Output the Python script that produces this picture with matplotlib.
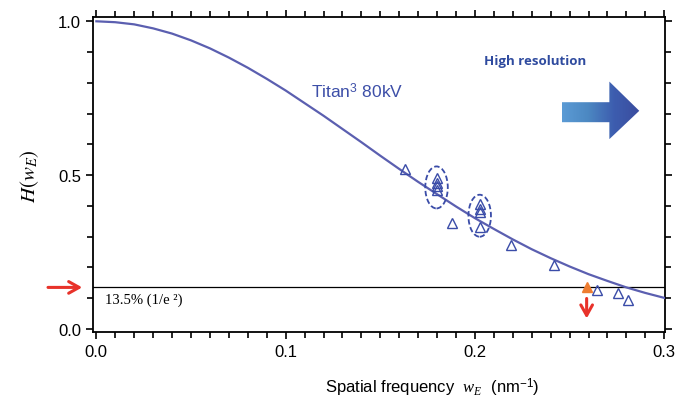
import matplotlib
matplotlib.use("Agg")
import matplotlib.pyplot as plt
import numpy as np
from matplotlib.patches import Ellipse, Polygon
from matplotlib.colors import LinearSegmentedColormap
from matplotlib.ticker import MultipleLocator

plt.rcParams["font.family"] = ["Liberation Sans", "DejaVu Sans"]
plt.rcParams["mathtext.fontset"] = "custom"
plt.rcParams["mathtext.rm"] = "Liberation Sans"
plt.rcParams["mathtext.it"] = "Liberation Serif:italic"
plt.rcParams["mathtext.bf"] = "Liberation Sans:bold"

# Envelope curve (Titan3 80kV)
curve_w = [0.00, 0.01, 0.02, 0.03, 0.04, 0.05, 0.06, 0.07, 0.08, 0.09, 0.10,
           0.11, 0.12, 0.13, 0.14, 0.15, 0.16, 0.17, 0.18, 0.19, 0.20,
           0.21, 0.22, 0.23, 0.24, 0.25, 0.26, 0.27, 0.28, 0.29, 0.30]
curve_h = [1.000, 0.997, 0.990, 0.977, 0.960, 0.938, 0.912, 0.882, 0.849, 0.813, 0.775,
           0.734, 0.693, 0.650, 0.607, 0.563, 0.520, 0.478, 0.438, 0.398, 0.360,
           0.325, 0.291, 0.259, 0.230, 0.203, 0.178, 0.156, 0.135, 0.117, 0.101]

# Measured points (open triangles)
meas_w = [0.163, 0.1797, 0.1797, 0.1797, 0.1797, 0.188, 0.2025, 0.2025, 0.2025, 0.2025,
          0.219, 0.242, 0.2644, 0.2754, 0.281]
meas_h = [0.519, 0.490, 0.475, 0.465, 0.450, 0.344, 0.406, 0.390, 0.379, 0.330,
          0.274, 0.208, 0.127, 0.116, 0.095]

# Information limit point (filled)
limit_w = [0.259]
limit_h = [0.135]

# Dashed groups: centre w, centre H
group_w = [0.1797, 0.2025]
group_h = [0.460, 0.368]

threshold = 0.135

line_blue = "#5B5FB0"
mark_blue = "#3A4CA8"
red = "#E8322A"

fig = plt.figure(figsize=(6.77, 4.02), dpi=100)
ax = fig.add_axes([0.137, 0.1716, 0.8453, 0.7829])

ax.plot(curve_w, curve_h, color=line_blue, lw=1.6, zorder=3)
ax.axhline(threshold, color="black", lw=0.9, zorder=2)

ax.plot(meas_w, meas_h, linestyle="none", marker="^", markersize=7.5,
        markerfacecolor="none", markeredgecolor=mark_blue, markeredgewidth=1.0, zorder=4)
ax.plot(limit_w, limit_h, linestyle="none", marker="^", markersize=7.5,
        markerfacecolor="#EE7D31", markeredgecolor="#EE7D31", zorder=5)

for gw, gh in zip(group_w, group_h):
    ax.add_patch(Ellipse((gw, gh), 0.0119, 0.1365, fill=False, edgecolor=mark_blue,
                         lw=1.3, linestyle=(0, (3, 1.5)), zorder=4))

# Red arrows
arrow_style = "->,head_length=0.75,head_width=0.42"
ax.annotate("", xy=(limit_w[0], 0.025), xytext=(limit_w[0], 0.108),
            arrowprops=dict(arrowstyle=arrow_style, color=red, lw=2.2), zorder=5)
ax.annotate("", xy=(-0.006, threshold), xytext=(-0.027, threshold),
            arrowprops=dict(arrowstyle=arrow_style, color=red, lw=2.2),
            annotation_clip=False)

# Gradient arrow toward high resolution
verts = [(0.2459, 0.672), (0.2710, 0.672), (0.2710, 0.617), (0.2868, 0.709),
         (0.2710, 0.804), (0.2710, 0.737), (0.2459, 0.737)]
poly = Polygon(verts, closed=True, facecolor="none", edgecolor="none")
ax.add_patch(poly)
grad = np.linspace(0, 1, 256).reshape(1, -1)
cmap = LinearSegmentedColormap.from_list(
    "hires", ["#5B9BD5", "#4C88C2", "#3D5DAF", "#3A4C9E"])
im = ax.imshow(grad, extent=[0.2459, 0.2868, 0.617, 0.804], aspect="auto",
               cmap=cmap, zorder=3, interpolation="bilinear")
im.set_clip_path(poly)

ax.text(0.232, 0.871, "High resolution", color="#2F4B9F", fontsize=9.5,
        fontweight="bold", family=["Open Sans", "DejaVu Sans"], ha="center", va="center")
ax.text(0.1135, 0.775, r"Titan$^{3}$ 80kV", color="#3D4FA8", fontsize=12.5,
        ha="left", va="center")
ax.text(0.0046, 0.095, "13.5% (1/e ²)", fontsize=10.5,
        family=["Liberation Serif", "DejaVu Serif"], ha="left", va="center")

ax.set_xlim(-0.0019, 0.3004)
ax.set_ylim(-0.01, 1.013)
ax.xaxis.set_major_locator(MultipleLocator(0.1))
ax.xaxis.set_minor_locator(MultipleLocator(0.01))
ax.yaxis.set_major_locator(MultipleLocator(0.5))
ax.yaxis.set_minor_locator(MultipleLocator(0.1))
ax.xaxis.set_major_formatter(plt.FormatStrFormatter("%.1f"))
ax.yaxis.set_major_formatter(plt.FormatStrFormatter("%.1f"))
ax.tick_params(which="both", direction="out", top=True, right=True, width=1.2,
               labelsize=12)
ax.tick_params(which="major", length=5)
ax.tick_params(which="minor", length=4)
for s in ax.spines.values():
    s.set_linewidth(1.3)

ax.set_ylabel(r"$H(w_E)$", fontsize=15, math_fontfamily="stix", labelpad=12)
fig.text(0.638, 0.035, r"Spatial frequency  $w_E$  (nm$^{\mathrm{-1}}$)",
         fontsize=12, ha="center", va="center")

fig.savefig("out.png", dpi=100)
